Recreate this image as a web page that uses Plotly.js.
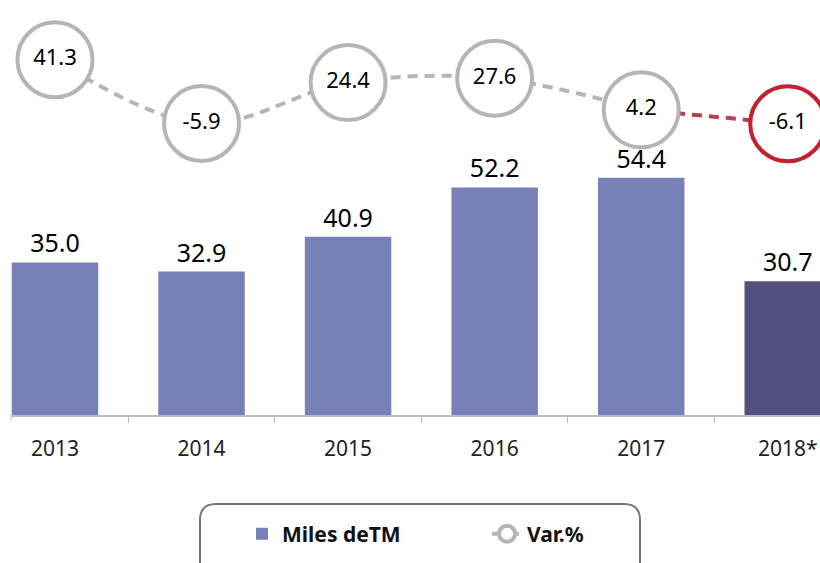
<!DOCTYPE html>
<html>
<head>
<meta charset="utf-8">
<script src="https://cdn.plot.ly/plotly-3.0.1.min.js"></script>
<style>
  html, body { margin: 0; padding: 0; background: #fff; }
  #chart { width: 820px; height: 563px; }
</style>
</head>
<body>
<div id="chart"></div>
<script>
// ---- Data ----
const years = ['2013', '2014', '2015', '2016', '2017', '2018*'];
const volume = [35.0, 32.9, 40.9, 52.2, 54.4, 30.7];      // Miles deTM
const varPct = [41.3, -5.9, 24.4, 27.6, 4.2, -6.1];        // Var.%
const seriesNames = ['Miles deTM', 'Var.%'];

// ---- Styling ----
const FONT = 'Noto Sans, Open Sans, sans-serif';
const barLight = '#7880b8';
const barDark = '#534f80';
const grey = '#b5b5b5';
const red = '#c4202f';
const redLine = '#b8404f';

const W = 820, H = 563;
const M = {l: 11, r: 0, t: 0, b: 148};
const plotW = W - M.l - M.r, plotH = H - M.t - M.b;
const px2x = px => (px - M.l) / plotW;
const py2y = py => (H - M.b - py) / plotH;

const fmt = v => v.toFixed(1);
const last = years.length - 1;

const barTrace = {
  type: 'bar',
  x: years,
  y: volume,
  name: seriesNames[0],
  width: 0.59,
  marker: {color: years.map((_, i) => i === last ? barDark : barLight)},
  text: volume.map(fmt),
  textposition: 'outside',
  textfont: {family: FONT, size: 25, color: '#000'},
  cliponaxis: false,
  hoverinfo: 'x+y'
};

const redSeg = {
  type: 'scatter',
  x: years.slice(last - 1),
  y: varPct.slice(last - 1),
  yaxis: 'y2',
  mode: 'lines',
  line: {color: redLine, width: 4, dash: '10px,7px'},
  showlegend: false,
  hoverinfo: 'skip',
  cliponaxis: false
};

const greyTrace = {
  type: 'scatter',
  x: years.slice(0, last),
  y: varPct.slice(0, last),
  yaxis: 'y2',
  name: seriesNames[1],
  mode: 'lines+markers+text',
  line: {color: grey, width: 4, dash: '10px,7px', shape: 'spline'},
  marker: {size: 75, color: '#fff', line: {color: grey, width: 4}},
  text: varPct.slice(0, last).map(fmt),
  textposition: 'middle center',
  textfont: {family: FONT, size: 22, color: '#000'},
  cliponaxis: false
};

const redMarker = {
  type: 'scatter',
  x: years.slice(last),
  y: varPct.slice(last),
  yaxis: 'y2',
  mode: 'markers+text',
  marker: {size: 75, color: '#fff', line: {color: red, width: 4}},
  text: varPct.slice(last).map(fmt),
  textposition: 'middle center',
  textfont: {family: FONT, size: 22, color: '#000'},
  showlegend: false,
  cliponaxis: false
};

// rounded legend frame (open at bottom, cropped like the reference)
const r = 16;
const bx0 = 200, bx1 = 640, by0 = 504, by1 = 575;
const framePath =
  `M ${px2x(bx0)},${py2y(by1)} L ${px2x(bx0)},${py2y(by0 + r)} ` +
  `Q ${px2x(bx0)},${py2y(by0)} ${px2x(bx0 + r)},${py2y(by0)} ` +
  `L ${px2x(bx1 - r)},${py2y(by0)} ` +
  `Q ${px2x(bx1)},${py2y(by0)} ${px2x(bx1)},${py2y(by0 + r)} ` +
  `L ${px2x(bx1)},${py2y(by1)}`;

const layout = {
  width: W, height: H,
  margin: M,
  paper_bgcolor: '#fff',
  plot_bgcolor: '#fff',
  font: {family: FONT, color: '#222'},
  xaxis: {
    type: 'category',
    range: [-0.30, 5.22],
    showgrid: false,
    zeroline: false,
    showline: true,
    linecolor: '#bdbdbd',
    linewidth: 1.5,
    ticks: 'outside',
    tickson: 'boundaries',
    ticklen: 6,
    tickwidth: 1,
    tickcolor: '#bdbdbd',
    ticklabelstandoff: 14,
    tickfont: {family: FONT, size: 21, color: '#222'},
    fixedrange: true
  },
  yaxis: {
    range: [0, 95.2],
    visible: false,
    showgrid: false,
    zeroline: false,
    fixedrange: true
  },
  yaxis2: {
    range: [-221.85, 85.56],
    overlaying: 'y',
    visible: false,
    showgrid: false,
    zeroline: false,
    fixedrange: true
  },
  showlegend: true,
  legend: {
    orientation: 'h',
    x: px2x(242), xanchor: 'left',
    y: py2y(534), yanchor: 'middle',
    bgcolor: 'rgba(0,0,0,0)',
    borderwidth: 0,
    entrywidth: 200,
    entrywidthmode: 'pixels',
    font: {family: FONT, size: 21, color: '#111', weight: 700},
    itemclick: false, itemdoubleclick: false
  },
  shapes: [
    {type: 'path', xref: 'paper', yref: 'paper', path: framePath,
     line: {color: '#777', width: 2}, fillcolor: 'rgba(0,0,0,0)'},
    {type: 'line', xref: 'paper', yref: 'paper', x0: 0, x1: 0, y0: 0, y1: py2y(H - M.b + 6),
     line: {color: '#bdbdbd', width: 1}}
  ]
};

Plotly.newPlot('chart', [barTrace, redSeg, greyTrace, redMarker], layout,
  {displayModeBar: false, staticPlot: true});
</script>
</body>
</html>
